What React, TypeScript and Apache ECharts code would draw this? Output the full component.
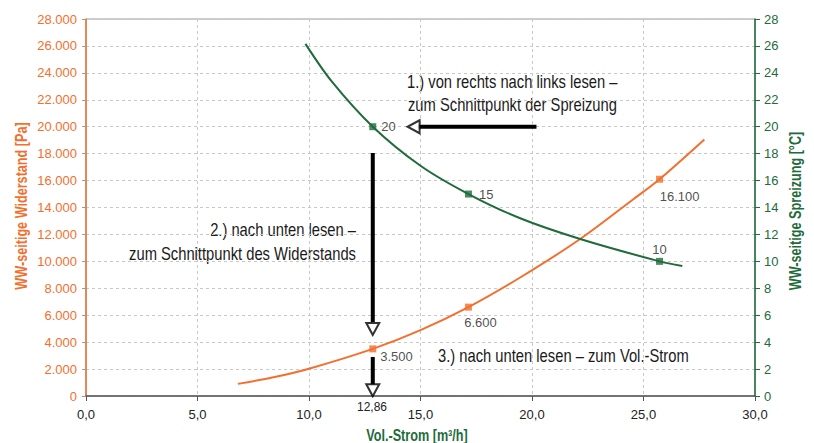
import React, { useEffect, useRef } from "react";
import * as echarts from "echarts";

// Pressure curve (WW-seitige Widerstand)
const pressureVol = [6.81, 8.3, 10, 12.86, 15, 17.15, 19.47, 22.16, 24.5, 25.72, 27.73];
const pressurePa = [900, 1350, 2030, 3500, 4890, 6600, 8800, 11660, 14560, 16100, 19050];
// Spread curve (WW-seitige Spreizung)
const spreadVol = [9.84, 11, 12.86, 15, 17.15, 19.47, 22.16, 25.72, 26.74];
const spreadK = [26.15, 23.4, 20, 17.1, 15, 13.2, 11.66, 10, 9.65];
// Marked points
const markVol = [12.86, 17.15, 25.72];
const markPa = [3500, 6600, 16100];
const markK = [20, 15, 10];
const paLabels = ["3.500", "6.600", "16.100"];
const kLabels = ["20", "15", "10"];

const ORANGE = "#F36F2E";
const GREEN = "#1E6B3C";
const SANS = "'Liberation Sans', Arial, sans-serif";

const fmtThousands = (v: number) =>
  String(Math.round(v)).replace(/\B(?=(\d{3})+(?!\d))/g, ".");

export default function App() {
  const ref = useRef<HTMLDivElement>(null);
  useEffect(() => {
    document.body.style.margin = "0";
    if (!ref.current) return;
    const chart = echarts.init(ref.current, undefined, {
      renderer: "svg",
      width: 814,
      height: 443,
    });

    const paLabelCfg = [
      { position: "right", offset: [-1, 8] },
      { position: "bottom", offset: [12, 0] },
      { position: "bottom", offset: [20, 2] },
    ];
    const kLabelCfg = [
      { position: "right", offset: [0, 0] },
      { position: "right", offset: [2, 0] },
      { position: "top", offset: [0, 3] },
    ];

    const arrowLine = { color: "#000", width: 4 };
    const headStyle = { color: "#fff", borderColor: "#000", borderWidth: 2 };
    const annoFont = `18px ${SANS}`;
    const titleFont = `bold 16px ${SANS}`;
    const annoScale = 0.82;
    const titleScale = 0.79;

    chart.setOption({
      animation: false,
      grid: {
        left: 86,
        right: 59,
        top: 19,
        bottom: 47,
        show: true,
        borderColor: "#9a9a9a",
        borderWidth: 1,
        backgroundColor: "transparent",
      },
      xAxis: {
        type: "value",
        min: 0,
        max: 30,
        interval: 5,
        axisLine: { lineStyle: { color: "#555", width: 1.5 } },
        axisTick: { show: true, length: 5, lineStyle: { color: "#555" } },
        axisLabel: {
          color: "#222",
          fontFamily: SANS,
          fontSize: 13,
          margin: 12,
          formatter: (v: number) => v.toFixed(1).replace(".", ","),
        },
        splitLine: { show: true, lineStyle: { color: "#c8c8c8", type: [3, 3] } },
      },
      yAxis: [
        {
          type: "value",
          min: 0,
          max: 28000,
          interval: 2000,
          position: "left",
          axisLine: { show: true, lineStyle: { color: ORANGE, width: 1.5 } },
          axisTick: { show: true, length: 4, lineStyle: { color: "#999" } },
          axisLabel: { color: ORANGE, fontFamily: SANS, fontSize: 13, margin: 9, formatter: fmtThousands },
          splitLine: { show: true, lineStyle: { color: "#c8c8c8", type: [3, 3] } },
        },
        {
          type: "value",
          min: 0,
          max: 28,
          interval: 2,
          position: "right",
          axisLine: { show: true, lineStyle: { color: GREEN, width: 1.5 } },
          axisTick: { show: true, length: 5, lineStyle: { color: GREEN } },
          axisLabel: { color: GREEN, fontFamily: SANS, fontSize: 13, margin: 9 },
          splitLine: { show: false },
        },
      ],
      series: [
        {
          type: "line",
          yAxisIndex: 0,
          smooth: 0.3,
          symbol: "none",
          lineStyle: { color: ORANGE, width: 2 },
          data: pressureVol.map((v, i) => [v, pressurePa[i]]),
          z: 3,
        },
        {
          type: "line",
          yAxisIndex: 1,
          smooth: 0.3,
          symbol: "none",
          lineStyle: { color: GREEN, width: 2 },
          data: spreadVol.map((v, i) => [v, spreadK[i]]),
          z: 3,
        },
        {
          type: "scatter",
          yAxisIndex: 0,
          symbol: "rect",
          symbolSize: 7,
          itemStyle: { color: ORANGE },
          data: markVol.map((v, i) => ({
            value: [v, markPa[i]],
            label: {
              show: true,
              formatter: paLabels[i],
              color: "#222",
              fontFamily: SANS,
              fontSize: 13,
              ...paLabelCfg[i],
            },
          })),
          z: 4,
        },
        {
          type: "scatter",
          yAxisIndex: 1,
          symbol: "rect",
          symbolSize: 7,
          itemStyle: { color: GREEN },
          data: markVol.map((v, i) => ({
            value: [v, markK[i]],
            label: {
              show: true,
              formatter: kLabels[i],
              color: "#222",
              fontFamily: SANS,
              fontSize: 13,
              ...kLabelCfg[i],
            },
          })),
          z: 4,
        },
        // Arrow 1: horizontal, right to left
        {
          type: "line",
          yAxisIndex: 0,
          symbol: "none",
          lineStyle: arrowLine,
          data: [
            [20.2, 20000],
            [14.9, 20000],
          ],
          z: 5,
        },
        // Arrow 2: down to pressure curve
        {
          type: "line",
          yAxisIndex: 0,
          symbol: "none",
          lineStyle: arrowLine,
          data: [
            [12.86, 18050],
            [12.86, 5500],
          ],
          z: 5,
        },
        // Arrow 3: down to x axis
        {
          type: "line",
          yAxisIndex: 0,
          symbol: "none",
          lineStyle: arrowLine,
          data: [
            [12.86, 2900],
            [12.86, 850],
          ],
          z: 5,
        },
        {
          type: "scatter",
          yAxisIndex: 0,
          symbol: "triangle",
          symbolSize: [13, 12],
          itemStyle: headStyle,
          data: [
            { value: [14.69, 20000], symbolRotate: 90 },
            { value: [12.86, 4980], symbolRotate: 180 },
            { value: [12.86, 430], symbolRotate: 180 },
          ],
          z: 6,
        },
      ],
      graphic: [
        // axis titles
        {
          type: "text",
          x: 21,
          y: 206,
          rotation: Math.PI / 2,
          scaleX: titleScale,
          style: {
            text: "WW-seitige Widerstand [Pa]",
            fill: ORANGE,
            font: titleFont,
            textAlign: "center",
            textVerticalAlign: "middle",
          },
        },
        {
          type: "text",
          x: 795,
          y: 211,
          rotation: Math.PI / 2,
          scaleX: titleScale,
          style: {
            text: "WW-seitige Spreizung [°C]",
            fill: GREEN,
            font: titleFont,
            textAlign: "center",
            textVerticalAlign: "middle",
          },
        },
        {
          type: "text",
          x: 417,
          y: 435,
          scaleX: titleScale,
          style: {
            text: "Vol.-Strom [m³/h]",
            fill: GREEN,
            font: titleFont,
            textAlign: "center",
            textVerticalAlign: "middle",
          },
        },
        // annotations
        {
          type: "text",
          x: 407,
          y: 81,
          scaleX: annoScale,
          style: { text: "1.) von rechts nach links lesen –", fill: "#1a1a1a", font: annoFont, textAlign: "left", textVerticalAlign: "middle" },
        },
        {
          type: "text",
          x: 408,
          y: 104,
          scaleX: annoScale,
          style: { text: "zum Schnittpunkt der Spreizung", fill: "#1a1a1a", font: annoFont, textAlign: "left", textVerticalAlign: "middle" },
        },
        {
          type: "text",
          x: 356,
          y: 229,
          scaleX: annoScale,
          style: { text: "2.) nach unten lesen –", fill: "#1a1a1a", font: annoFont, textAlign: "right", textVerticalAlign: "middle" },
        },
        {
          type: "text",
          x: 356,
          y: 253,
          scaleX: annoScale,
          style: { text: "zum Schnittpunkt des Widerstands", fill: "#1a1a1a", font: annoFont, textAlign: "right", textVerticalAlign: "middle" },
        },
        {
          type: "text",
          x: 438,
          y: 355,
          scaleX: annoScale,
          style: { text: "3.) nach unten lesen – zum Vol.-Strom", fill: "#1a1a1a", font: annoFont, textAlign: "left", textVerticalAlign: "middle" },
        },
        {
          type: "text",
          x: 372,
          y: 407,
          style: {
            text: "12,86",
            fill: "#222",
            font: `12px ${SANS}`,
            textAlign: "center",
            textVerticalAlign: "middle",
          },
          z: 10,
        },
      ],
    });
    return () => chart.dispose();
  }, []);
  return (
    <div
      ref={ref}
      style={{ position: "absolute", left: 0, top: 0, width: 814, height: 443 }}
    />
  );
}
